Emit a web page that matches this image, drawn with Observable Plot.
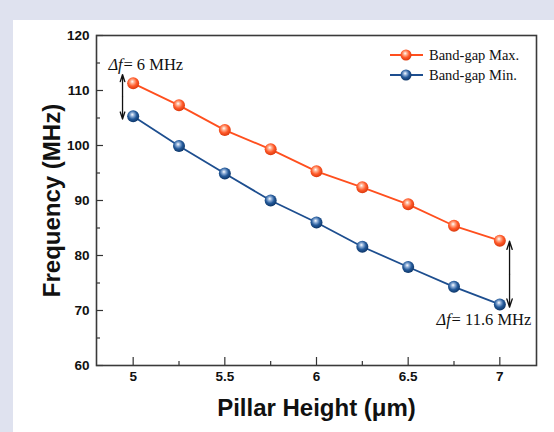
<!DOCTYPE html>
<html>
<head>
<meta charset="utf-8">
<script src="https://cdn.jsdelivr.net/npm/d3@7"></script>
<script src="https://cdn.jsdelivr.net/npm/@observablehq/plot@0.6"></script>
<style>
  html, body { margin: 0; padding: 0; }
  body { width: 554px; height: 432px; background: #dfe2ef; position: relative; overflow: hidden; }
  #panel { position: absolute; left: 13px; top: 20px; width: 541px; height: 412px; background: #ffffff; }
  #chart { position: absolute; left: 0; top: 0; }
  #chart svg { background: transparent !important; }
  #legend { position: absolute; left: 388px; top: 45px; font-family: "Liberation Serif", serif; font-size: 14.5px; color: #111; }
  .row { display: flex; align-items: center; height: 20px; }
  .row svg { margin-right: 5px; }
</style>
</head>
<body>
<svg width="0" height="0" style="position:absolute">
  <defs>
    <radialGradient id="gMax" cx="45%" cy="40%" r="60%" fx="42%" fy="35%">
      <stop offset="0%" stop-color="#ffffff"/>
      <stop offset="25%" stop-color="#ffb394"/>
      <stop offset="60%" stop-color="#ff5a2a"/>
      <stop offset="100%" stop-color="#d9380c"/>
    </radialGradient>
    <radialGradient id="gMin" cx="45%" cy="40%" r="60%" fx="42%" fy="35%">
      <stop offset="0%" stop-color="#ffffff"/>
      <stop offset="25%" stop-color="#93b2da"/>
      <stop offset="60%" stop-color="#245a9a"/>
      <stop offset="100%" stop-color="#0c3466"/>
    </radialGradient>
  </defs>
</svg>
<div id="panel"></div>
<div id="chart"></div>
<div id="legend"></div>
<script>
// ---- data ----
const heights = [5, 5.25, 5.5, 5.75, 6, 6.25, 6.5, 6.75, 7];
const bandMax = [111.3, 107.3, 102.8, 99.3, 95.3, 92.4, 89.3, 85.4, 82.7];
const bandMin = [105.3, 99.9, 94.9, 90.0, 86.0, 81.6, 77.9, 74.3, 71.1];
const seriesNames = ["Band-gap Max.", "Band-gap Min."];
const seriesColors = ["#ff4f1e", "#1d4e8f"];
const seriesFills = ["url(#gMax)", "url(#gMin)"];
const xTicks = [5, 5.5, 6, 6.5, 7];
const xMinorTicks = [5.25, 5.75, 6.25, 6.75];
const yTicks = [60, 70, 80, 90, 100, 110, 120];
const yMinorTicks = [65, 75, 85, 95, 105, 115];
const xTitle = "Pillar Height (μm)";
const yTitle = "Frequency (MHz)";
// annotations: double arrows and Δf labels
const gapArrows = [
  {x: 4.942, y1: 112.9, y2: 104.8},
  {x: 7.053, y1: 82.6, y2: 70.6}
];
const gapLabels = [
  {x: 4.865, y: 114.6, value: "= 6 MHz"},
  {x: 6.655, y: 68.3, value: "= 11.6 MHz"}
];

const rows = [];
heights.forEach((h, i) => {
  rows.push({h, f: bandMax[i], s: seriesNames[0]});
  rows.push({h, f: bandMin[i], s: seriesNames[1]});
});
// each double arrow drawn as two arrows from its midpoint outward
const arrowHalves = gapArrows.flatMap(a => {
  const m = (a.y1 + a.y2) / 2;
  return [{x: a.x, from: m, to: a.y1}, {x: a.x, from: m, to: a.y2}];
});

const axisFont = "'Liberation Sans', Arial, sans-serif";
const serif = "'Liberation Serif', 'Times New Roman', serif";
const fmt = d => String(d);

const chart = Plot.plot({
  width: 554,
  height: 432,
  marginLeft: 96,
  marginRight: 18,
  marginTop: 35,
  marginBottom: 67,
  style: {background: "transparent", overflow: "visible"},
  x: {domain: [4.8, 7.2], axis: null},
  y: {domain: [60, 120], axis: null},
  color: {domain: seriesNames, range: seriesColors},
  marks: [
    Plot.text(xTicks, {x: d => d, frameAnchor: "bottom", lineAnchor: "middle", dy: 11, text: fmt, fontSize: 13.5, fontWeight: "bold", fontFamily: axisFont, fill: "#111"}),
    Plot.axisX(xTicks, {tickSize: -8, tickFormat: () => "", stroke: "#333", strokeWidth: 1.2, label: null}),
    Plot.axisX(xMinorTicks, {tickSize: -4, tickFormat: () => "", stroke: "#333", strokeWidth: 1.2, label: null}),
    Plot.text(yTicks, {y: d => d, frameAnchor: "left", textAnchor: "end", dx: -7, text: fmt, fontSize: 13.5, fontWeight: "bold", fontFamily: axisFont, fill: "#111"}),
    Plot.axisY(yTicks, {tickSize: -7, tickFormat: () => "", stroke: "#333", strokeWidth: 1.2, label: null}),
    Plot.axisY(yMinorTicks, {tickSize: -4, tickFormat: () => "", stroke: "#333", strokeWidth: 1.2, label: null}),
    Plot.frame({stroke: "#3a3a3a", strokeWidth: 1.6}),
    Plot.line(rows, {x: "h", y: "f", z: "s", stroke: "s", strokeWidth: 1.8}),
    Plot.dot(rows, {x: "h", y: "f", r: 6, fill: d => seriesFills[seriesNames.indexOf(d.s)], stroke: "none"}),
    Plot.arrow(arrowHalves, {x: "x", y1: "from", y2: "to", stroke: "#111", strokeWidth: 1.3, headLength: 10, headAngle: 36}),
    Plot.text(gapLabels, {x: "x", y: "y", text: () => "Δf", textAnchor: "start", fontStyle: "italic", fontSize: 16.5, fontFamily: serif, fill: "#111"}),
    Plot.text(gapLabels, {x: "x", y: "y", text: "value", textAnchor: "start", dx: 15, fontSize: 16.5, fontFamily: serif, fill: "#111"}),
    Plot.text([xTitle], {frameAnchor: "bottom", textAnchor: "middle", lineAnchor: "middle", dy: 43, fontSize: 24, fontWeight: "bold", fontFamily: axisFont, fill: "#111"}),
    Plot.text([yTitle], {frameAnchor: "left", textAnchor: "middle", lineAnchor: "middle", dx: -44, rotate: -90, fontSize: 24, fontWeight: "bold", fontFamily: axisFont, fill: "#111"})
  ]
});
document.getElementById("chart").appendChild(chart);

// legend
const legend = document.getElementById("legend");
seriesNames.forEach((name, i) => {
  const row = document.createElement("div");
  row.className = "row";
  row.innerHTML = `<svg width="36" height="14"><line x1="2" y1="7" x2="35" y2="7" stroke="${seriesColors[i]}" stroke-width="1.8"/><circle cx="18" cy="7" r="5.5" fill="${seriesFills[i]}"/></svg><span>${name}</span>`;
  legend.appendChild(row);
});
</script>
</body>
</html>
